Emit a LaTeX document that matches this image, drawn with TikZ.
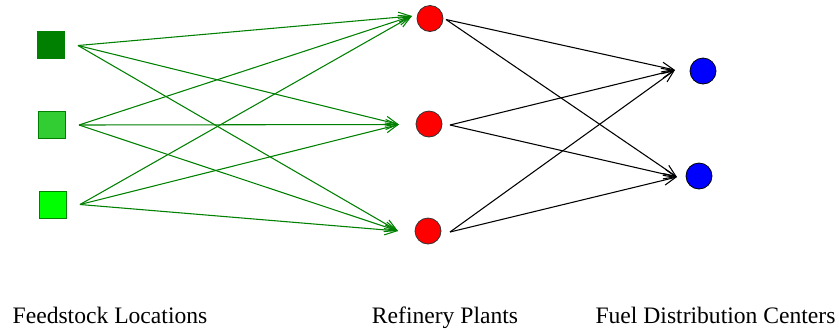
\documentclass[tikz,border=0pt]{standalone}
\usepackage{fontspec}
\setmainfont{Liberation Serif}
\usetikzlibrary{arrows.meta}
\definecolor{sqA}{RGB}{0,128,0}
\definecolor{sqB}{RGB}{50,205,50}
\definecolor{sqC}{RGB}{0,255,0}
\definecolor{edgeg}{RGB}{0,128,0}
\begin{document}
\begin{tikzpicture}[x=0.75pt,y=-0.75pt,
  sqnode/.style={rectangle,minimum size=20.25pt,inner sep=0pt,draw=edgeg,line width=0.6pt},
  refnode/.style={circle,minimum size=19.5pt,inner sep=0pt,fill=red,draw=black!80,line width=0.6pt},
  fuelnode/.style={circle,minimum size=19.5pt,inner sep=0pt,fill=blue,draw=black,line width=0.6pt},
  garrow/.style={draw=edgeg,line width=0.8pt,-{Straight Barb[length=9pt,width=7.5pt]}},
  barrow/.style={draw=black,line width=0.8pt,-{Straight Barb[length=9pt,width=7.5pt]}},
  lbl/.style={anchor=base,font=\fontsize{17.7pt}{20pt}\selectfont,inner sep=0pt}]
\useasboundingbox (0,0) rectangle (839,330);
% feedstock squares
\node[sqnode,fill=sqA,draw=sqA] (f1) at (51,45) {};
\node[sqnode,fill=sqB] (f2) at (51.5,124.5) {};
\node[sqnode,fill=sqC] (f3) at (52.5,204.5) {};
% refinery
\node[refnode] (r1) at (430,18.5) {};
\node[refnode] (r2) at (429,124) {};
\node[refnode] (r3) at (428,231) {};
% fuel centers
\node[fuelnode] (d1) at (703,71) {};
\node[fuelnode] (d2) at (699,176) {};
% connection points
\coordinate (f1o) at (78,45.5);
\coordinate (f2o) at (79,125);
\coordinate (f3o) at (80,204.5);
\coordinate (r1i) at (412,16);
\coordinate (r2i) at (399,124.5);
\coordinate (r3i) at (398,231);
\coordinate (r1o) at (446,19.5);
\coordinate (r2o) at (450,125);
\coordinate (r3o) at (450,232);
\coordinate (d1i) at (675,70);
\coordinate (d2i) at (677,177);
% green edges
\foreach \s in {f1o,f2o,f3o}{
  \foreach \t in {r1i,r2i,r3i}{
    \draw[garrow] (\s) -- (\t);
  }
}
% black edges
\foreach \s in {r1o,r2o,r3o}{
  \foreach \t in {d1i,d2i}{
    \draw[barrow] (\s) -- (\t);
  }
}
% labels
\node[lbl] (l1) at (110,323) {Feedstock Locations};
\node[lbl] (l2) at (445,323) {Refinery Plants};
\node[lbl] (l3) at (715.5,323) {Fuel Distribution Centers};
\end{tikzpicture}
\end{document}
